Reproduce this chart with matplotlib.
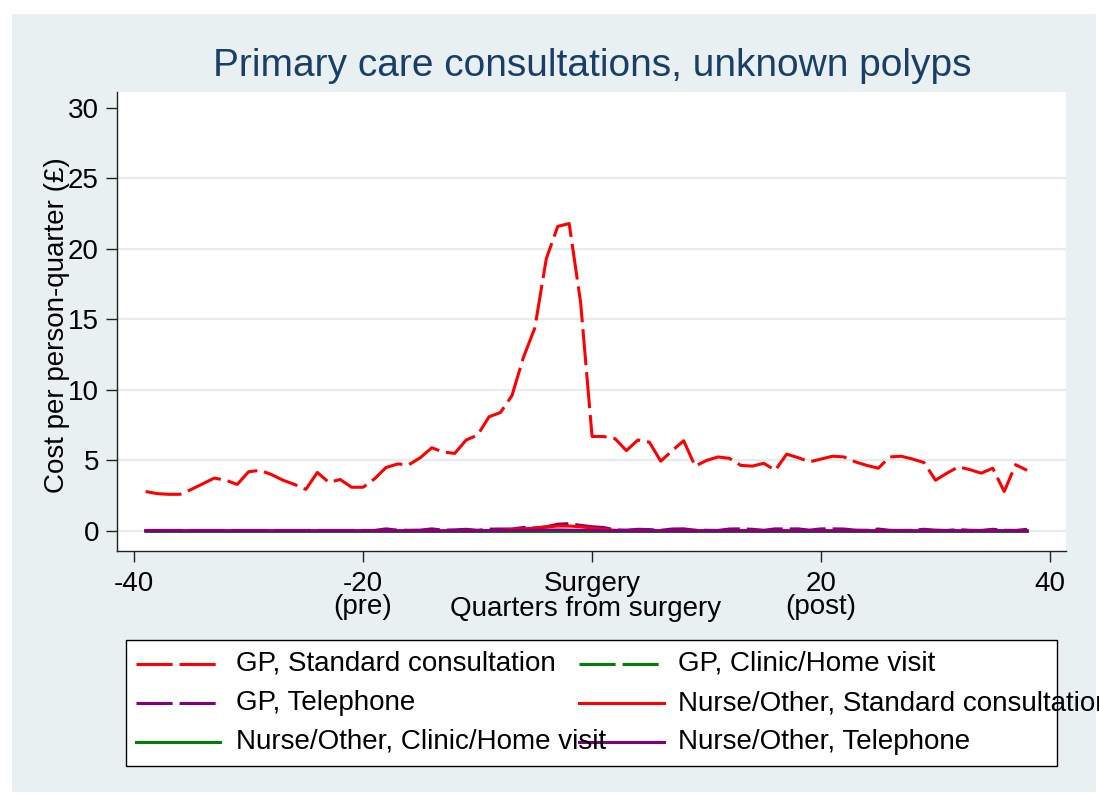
import numpy as np
import matplotlib.pyplot as plt
from matplotlib.lines import Line2D
from matplotlib.patches import Rectangle

plt.rcParams['font.family'] = ['Liberation Sans', 'DejaVu Sans']
plt.rcParams['lines.scale_dashes'] = False
plt.rcParams['axes.unicode_minus'] = False

# quarters relative to surgery
quarters = list(range(-39, 39))

# cost per person-quarter, one list per consultation type (quarters -39 .. 38)
gp_standard = [2.80, 2.65, 2.60, 2.60, 2.95, 3.35, 3.75, 3.60, 3.30, 4.20,
               4.30, 4.00, 3.60, 3.30, 2.95, 4.15, 3.45, 3.65, 3.10, 3.10,
               3.70, 4.50, 4.75, 4.70, 5.20, 5.90, 5.60, 5.50, 6.45, 6.80,
               8.10, 8.40, 9.60, 12.3, 14.4, 19.3, 21.6, 21.8, 16.2, 6.70,
               6.70, 6.55, 5.70, 6.45, 6.30, 4.95, 5.70, 6.40, 4.60, 5.00,
               5.25, 5.15, 4.65, 4.60, 4.80, 4.30, 5.45, 5.20, 4.90, 5.10,
               5.30, 5.25, 4.90, 4.65, 4.45, 5.25, 5.30, 5.10, 4.85, 3.60,
               4.10, 4.55, 4.35, 4.10, 4.45, 2.80, 4.70, 4.30]
gp_clinic = [0.01, 0.01, 0.01, 0.01, 0.01, 0.01, 0.01, 0.01, 0.01, 0.01,
             0.01, 0.01, 0.01, 0.01, 0.01, 0.01, 0.01, 0.01, 0.01, 0.01,
             0.01, 0.01, 0.01, 0.01, 0.01, 0.01, 0.01, 0.01, 0.01, 0.01,
             0.01, 0.01, 0.01, 0.02, 0.02, 0.02, 0.02, 0.02, 0.01, 0.01,
             0.01, 0.01, 0.01, 0.01, 0.01, 0.01, 0.01, 0.01, 0.01, 0.01,
             0.01, 0.01, 0.01, 0.01, 0.01, 0.01, 0.01, 0.01, 0.01, 0.01,
             0.01, 0.01, 0.01, 0.01, 0.01, 0.01, 0.01, 0.01, 0.01, 0.01,
             0.01, 0.01, 0.01, 0.01, 0.01, 0.01, 0.01, 0.01]
gp_telephone = [0.04, 0.04, 0.04, 0.04, 0.04, 0.04, 0.04, 0.04, 0.04, 0.04,
                0.04, 0.04, 0.04, 0.04, 0.04, 0.04, 0.04, 0.04, 0.04, 0.04,
                0.04, 0.15, 0.06, 0.05, 0.06, 0.15, 0.06, 0.08, 0.12, 0.05,
                0.13, 0.14, 0.14, 0.25, 0.22, 0.30, 0.48, 0.52, 0.40, 0.30,
                0.25, 0.08, 0.06, 0.12, 0.10, 0.05, 0.14, 0.15, 0.06, 0.05,
                0.04, 0.14, 0.15, 0.12, 0.05, 0.15, 0.14, 0.15, 0.06, 0.15,
                0.15, 0.14, 0.06, 0.05, 0.14, 0.05, 0.04, 0.05, 0.12, 0.06,
                0.04, 0.10, 0.05, 0.04, 0.12, 0.05, 0.04, 0.12]
nurse_standard = [0.01, 0.01, 0.01, 0.01, 0.01, 0.01, 0.01, 0.01, 0.01, 0.01,
                  0.01, 0.01, 0.01, 0.01, 0.01, 0.01, 0.01, 0.01, 0.01, 0.01,
                  0.01, 0.01, 0.01, 0.01, 0.01, 0.01, 0.01, 0.01, 0.01, 0.01,
                  0.02, 0.05, 0.12, 0.15, 0.20, 0.28, 0.35, 0.35, 0.30, 0.20,
                  0.12, 0.05, 0.01, 0.01, 0.01, 0.01, 0.01, 0.01, 0.01, 0.01,
                  0.01, 0.01, 0.01, 0.01, 0.01, 0.01, 0.01, 0.01, 0.01, 0.01,
                  0.01, 0.01, 0.01, 0.01, 0.01, 0.01, 0.01, 0.01, 0.01, 0.01,
                  0.01, 0.01, 0.01, 0.01, 0.01, 0.01, 0.01, 0.01]
nurse_clinic = [0.01, 0.01, 0.01, 0.01, 0.01, 0.01, 0.01, 0.01, 0.01, 0.01,
                0.01, 0.01, 0.01, 0.01, 0.01, 0.01, 0.01, 0.01, 0.01, 0.01,
                0.01, 0.01, 0.01, 0.01, 0.01, 0.01, 0.01, 0.01, 0.01, 0.01,
                0.01, 0.01, 0.01, 0.01, 0.01, 0.01, 0.01, 0.01, 0.01, 0.01,
                0.01, 0.01, 0.01, 0.01, 0.01, 0.01, 0.01, 0.01, 0.01, 0.01,
                0.01, 0.01, 0.01, 0.01, 0.01, 0.01, 0.01, 0.01, 0.01, 0.01,
                0.01, 0.01, 0.01, 0.01, 0.01, 0.01, 0.01, 0.01, 0.01, 0.01,
                0.01, 0.01, 0.01, 0.01, 0.01, 0.01, 0.01, 0.01]
nurse_telephone = [0.01, 0.01, 0.01, 0.01, 0.01, 0.01, 0.01, 0.01, 0.01, 0.01,
                   0.01, 0.01, 0.01, 0.01, 0.01, 0.01, 0.01, 0.01, 0.01, 0.01,
                   0.01, 0.02, 0.01, 0.01, 0.02, 0.01, 0.01, 0.02, 0.01, 0.02,
                   0.02, 0.03, 0.04, 0.05, 0.05, 0.07, 0.07, 0.06, 0.05, 0.04,
                   0.03, 0.02, 0.02, 0.01, 0.02, 0.01, 0.02, 0.01, 0.01, 0.02,
                   0.01, 0.01, 0.02, 0.01, 0.01, 0.02, 0.01, 0.01, 0.02, 0.01,
                   0.01, 0.02, 0.01, 0.01, 0.01, 0.02, 0.01, 0.01, 0.01, 0.01,
                   0.02, 0.01, 0.01, 0.01, 0.01, 0.02, 0.01, 0.01]

series_labels = ['GP, Standard consultation', 'GP, Clinic/Home visit', 'GP, Telephone',
                 'Nurse/Other, Standard consultation', 'Nurse/Other, Clinic/Home visit',
                 'Nurse/Other, Telephone']
xtick_vals = [-40, -20, 0, 20, 40]
xtick_labels = ['-40', '-20\n(pre)', 'Surgery', '20\n(post)', '40']
ytick_vals = [0, 5, 10, 15, 20, 25, 30]

RED, GREEN, PURPLE = '#ff0000', '#008000', '#800080'
BG = '#e9f0f2'
GRID = '#e4ecee'
DASH = (0, (26, 5))
W, H = 1099, 794

def fx(px):
    return px / W

def fy(py):
    return 1 - py / H

fig = plt.figure(figsize=(W / 100, H / 100), dpi=100)
fig.patch.set_facecolor('white')
fig.patches.append(Rectangle((fx(12), fy(792)), fx(1096 - 12), (792 - 14) / H,
                             transform=fig.transFigure, facecolor=BG, edgecolor='none', zorder=-10))

ax = fig.add_axes([fx(117), fy(551), fx(1066 - 117), (551 - 92) / H])
ax.set_facecolor('white')

styles = [(RED, DASH), (GREEN, DASH), (PURPLE, DASH), (RED, '-'), (GREEN, '-'), (PURPLE, '-')]
all_series = [gp_standard, gp_clinic, gp_telephone, nurse_standard, nurse_clinic, nurse_telephone]
for vals, (c, ls) in zip(all_series, styles):
    ax.plot(quarters, vals, color=c, linestyle=ls, linewidth=2.2, zorder=3)

for v in ytick_vals[:-1]:
    ax.axhline(v, color=GRID, linewidth=1.6, zorder=1)

ax.set_xlim(-41.5, 41.4)
ax.set_ylim(-1.42, 31.13)
ax.set_xticks(xtick_vals)
ax.set_xticklabels(xtick_labels, fontsize=20, linespacing=0.85)
ax.set_yticks(ytick_vals)
ax.set_yticklabels([str(v) for v in ytick_vals], fontsize=20)
ax.tick_params(axis='both', direction='out', length=8, width=1.0, color='#222222')
ax.tick_params(axis='x', pad=6.5)
ax.tick_params(axis='y', pad=5)
for s in ['top', 'right']:
    ax.spines[s].set_visible(False)
for s in ['left', 'bottom']:
    ax.spines[s].set_color('#222222')
    ax.spines[s].set_linewidth(1.0)

fig.text(fx(592), fy(66), 'Primary care consultations, unknown polyps',
         ha='center', va='center', fontsize=28, color='#1a3f66')
fig.text(fx(57), fy(325), 'Cost per person-quarter (£)', rotation=90,
         ha='center', va='center', fontsize=20)
fig.text(fx(586), fy(609), 'Quarters from surgery', ha='center', va='center', fontsize=20)

# legend drawn by hand, two columns like the Stata output
fig.patches.append(Rectangle((fx(126), fy(766)), fx(1057 - 126), (766 - 640) / H,
                             transform=fig.transFigure, facecolor='white',
                             edgecolor='black', linewidth=1.0, zorder=2))
rows = [664, 703, 742]
cols = [(136, 220, 236), (579, 664, 678)]
for i, (lab, (c, ls)) in enumerate(zip(series_labels, styles)):
    r, k = divmod(i, 2)
    x0, x1, xt = cols[k]
    fig.lines.append(Line2D([fx(x0), fx(x1)], [fy(rows[r]), fy(rows[r])], color=c,
                            linestyle=ls, linewidth=2.2, transform=fig.transFigure, zorder=3))
    fig.text(fx(xt), fy(rows[r]), lab, ha='left', va='center', fontsize=20, zorder=4)

fig.savefig('out.png', dpi=100)
